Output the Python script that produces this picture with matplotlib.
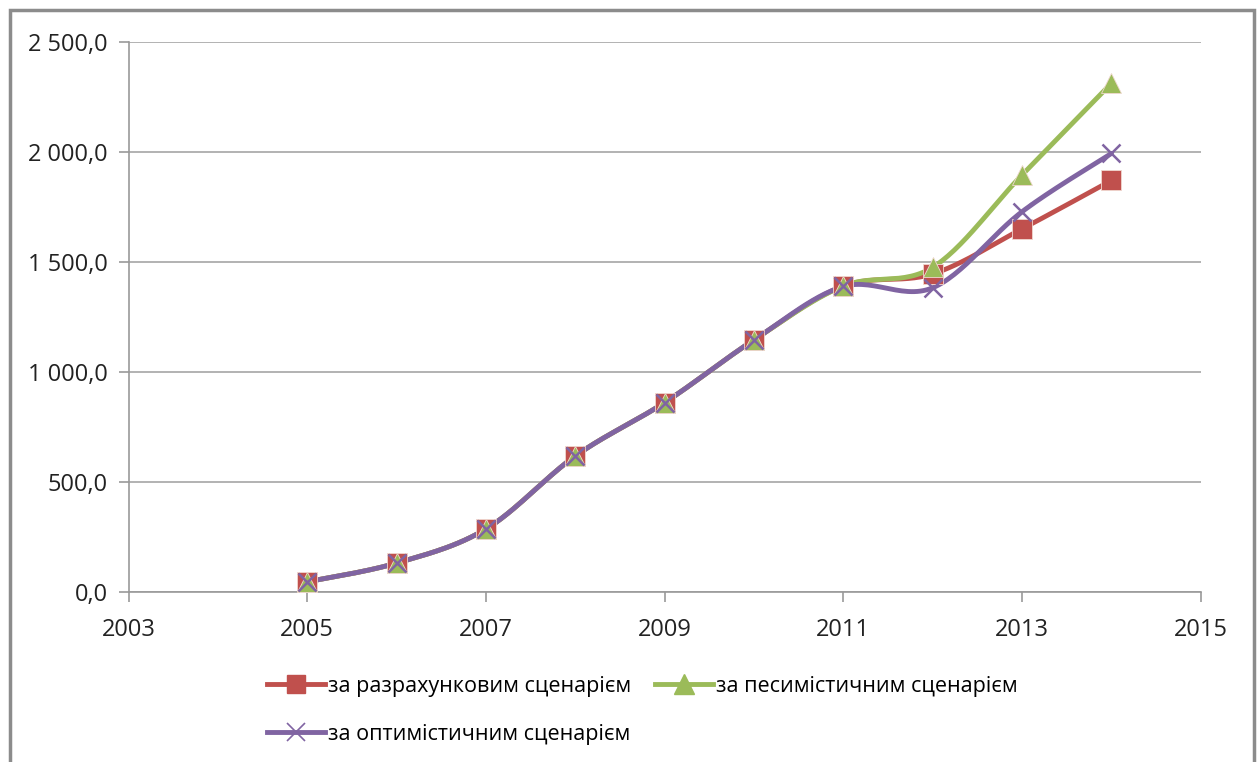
import numpy as np
import matplotlib
matplotlib.use("Agg")
import matplotlib.pyplot as plt
from matplotlib.lines import Line2D
from matplotlib.patches import Rectangle

plt.rcParams['font.family'] = ['Open Sans', 'DejaVu Sans']

# дані
years = [2005, 2006, 2007, 2008, 2009, 2010, 2011, 2012, 2013, 2014]
base = [45, 130, 285, 617, 860, 1145, 1390, 1445, 1650, 1870]
pessim = [45, 130, 285, 617, 860, 1145, 1390, 1475, 1895, 2312]
optim = [45, 130, 285, 617, 860, 1145, 1388, 1382, 1728, 1993]

labels = ['за разрахунковим сценарієм', 'за песимістичним сценарієм',
          'за оптимістичним сценарієм']
colors = ['#C0504D', '#9BBB59', '#8064A2']
markers = ['s', '^', 'x']

y_ticks = [0, 500, 1000, 1500, 2000, 2500]
y_labels = ['0,0', '500,0', '1 000,0', '1 500,0', '2 000,0', '2 500,0']
x_ticks = [2003, 2005, 2007, 2009, 2011, 2013, 2015]


def smooth_curve(x, y, n=30):
    # згладжування як у Excel (кубічні Безьє, Catmull-Rom)
    x = np.asarray(x, float)
    y = np.asarray(y, float)
    px = np.concatenate([[x[0]], x, [x[-1]]])
    py = np.concatenate([[y[0]], y, [y[-1]]])
    xs, ys = [], []
    t = np.linspace(0, 1, n)
    for i in range(1, len(px) - 2):
        p0 = np.array([px[i], py[i]])
        p3 = np.array([px[i + 1], py[i + 1]])
        c1 = p0 + (np.array([px[i + 1], py[i + 1]]) - np.array([px[i - 1], py[i - 1]])) / 6
        c2 = p3 - (np.array([px[i + 2], py[i + 2]]) - np.array([px[i], py[i]])) / 6
        b = ((1 - t) ** 3)[:, None] * p0 + (3 * (1 - t) ** 2 * t)[:, None] * c1 \
            + (3 * (1 - t) * t ** 2)[:, None] * c2 + (t ** 3)[:, None] * p3
        xs.extend(b[:, 0])
        ys.extend(b[:, 1])
    return xs, ys


fig = plt.figure(figsize=(12.6, 7.62), dpi=100)
ax = fig.add_axes([0.102, 0.2235, 0.851, 0.7215])

series = [base, pessim, optim]
handles = []
for vals, lab, col, mk in zip(series, labels, colors, markers):
    sx, sy = smooth_curve(years, vals)
    ax.plot(sx, sy, color=col, lw=3.5, solid_capstyle='round', zorder=3)
    if mk == 'x':
        ax.plot(years, vals, ls='none', marker='x', ms=13, mew=1.8, color=col, zorder=4)
        h = Line2D([], [], color=col, lw=3.5, marker='x', ms=13, mew=1.2)
    else:
        ms = 14 if mk == 's' else 15
        ax.plot(years, vals, ls='none', marker=mk, ms=ms, color=col,
                markeredgecolor='#f0d8d0', mew=0.6, zorder=4)
        h = Line2D([], [], color=col, lw=3.5, marker=mk, ms=ms - 1)
    handles.append(h)

ax.set_xlim(2003, 2015)
ax.set_ylim(0, 2500)
ax.set_xticks(x_ticks)
ax.set_yticks(y_ticks)
ax.set_yticklabels(y_labels)
ax.tick_params(axis='both', labelsize=17, color='#999999', length=7, width=1.2,
               labelcolor='#222222')
ax.tick_params(axis='y', pad=8)
ax.tick_params(axis='x', pad=12)
ax.grid(axis='y', color='#A6A6A6', lw=1.2)
ax.set_axisbelow(True)
for s in ['top', 'right']:
    ax.spines[s].set_visible(False)
for s in ['left', 'bottom']:
    ax.spines[s].set_color('#999999')
    ax.spines[s].set_linewidth(1.2)

fig.legend(handles[:2], labels[:2], loc='upper left', bbox_to_anchor=(258 / 1260, 1 - 667 / 762),
           ncol=2, frameon=False, fontsize=15.5, handlelength=2.7, handletextpad=0.15,
           columnspacing=1.1, borderaxespad=0)
fig.legend(handles[2:], labels[2:], loc='upper left', bbox_to_anchor=(258 / 1260, 1 - 715 / 762),
           frameon=False, fontsize=15.5, handlelength=2.7, handletextpad=0.15, borderaxespad=0)

fig.patches.append(Rectangle((10 / 1260, -0.01), 1244 / 1260, 1 - 10 / 762 + 0.01,
                             transform=fig.transFigure, fill=False, ec='#8C8C8C', lw=2.5))

fig.savefig('out.png', dpi=100)
